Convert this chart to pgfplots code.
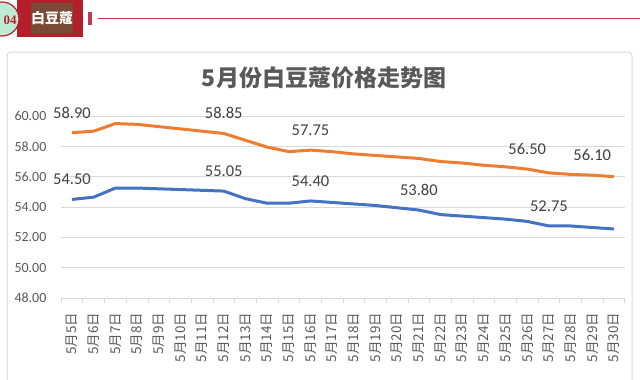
\documentclass[border=0pt]{standalone}
\usepackage{pgfplots}
\pgfplotsset{compat=1.18}
\usepackage{fontspec}
\setmainfont{Carlito}
\newfontfamily\cjk{Noto Sans CJK SC}
\newfontfamily\serifb{Liberation Serif}
\definecolor{orangeS}{HTML}{ED7D31}
\definecolor{blueS}{HTML}{4472C4}
\definecolor{gridc}{HTML}{D9D9D9}
\definecolor{txt}{HTML}{595959}
\definecolor{lab}{HTML}{404040}
\definecolor{hdred}{HTML}{B3202A}
\definecolor{hdbrown}{HTML}{7B4A36}
\definecolor{mint}{HTML}{BDEBD6}
\definecolor{linered}{HTML}{C23B55}
\begin{document}
\begin{tikzpicture}
\useasboundingbox (0,0) rectangle (640bp,-380bp);
% frame
\draw[gridc, line width=1bp, rounded corners=4bp] (7bp,-52bp) rectangle (632bp,-400bp);
% header
\fill[hdred] (17bp,0bp) rectangle (83bp,-37bp);
\fill[hdbrown] (31bp,-3bp) rectangle (73bp,-33bp);
\node[white, font=\cjk\bfseries\fontsize{14bp}{14bp}\selectfont] at (52bp,-18bp) {白豆蔻};
\draw[hdred, fill=mint, line width=1.2bp] (2bp,-19bp) circle (17bp);
\node[font=\serifb\bfseries\fontsize{13bp}{13bp}\selectfont, text=hdred] at (10bp,-20bp) {04};
\fill[linered] (88bp,-12bp) rectangle (92bp,-25bp);
\draw[linered, line width=1.5bp] (98bp,-18.5bp) -- (640bp,-18.5bp);
% title
\node[font=\cjk\bfseries\fontsize{23bp}{23bp}\selectfont, text=txt] at (324bp,-78bp) {5月份白豆蔻价格走势图};
\begin{axis}[
  at={(61.2bp,-298bp)}, anchor=south west,
  scale only axis, width=563.6bp, height=182bp,
  xmin=-0.5, xmax=25.5, ymin=48, ymax=60,
  ytick={48,50,...,60},
  ymajorgrids, grid style={gridc, line width=0.8bp},
  axis line style={draw=none},
  xtick={0,...,25},
  xticklabels={5月5日,5月6日,5月7日,5月8日,5月9日,5月10日,5月11日,5月12日,5月13日,5月14日,5月15日,5月16日,5月17日,5月18日,5月19日,5月20日,5月21日,5月22日,5月23日,5月24日,5月25日,5月26日,5月27日,5月28日,5月29日,5月30日},
  major x tick style={draw=none},
  minor xtick={-0.5,0.5,...,25.5},
  minor x tick style={gridc, line width=0.8bp},
  tick align=outside, minor tick length=5bp,
  xtick pos=bottom, ytick pos=left,
  ytick style={draw=none},
  xticklabel style={rotate=90, anchor=east, font=\cjk\fontsize{13.5bp}{13.5bp}\selectfont, text=txt},
  xticklabel shift=7bp,
  yticklabel style={font=\fontsize{14bp}{14bp}\selectfont, text=txt},
  yticklabel shift=7bp,
  /pgf/number format/.cd, fixed, fixed zerofill, precision=2, assume math mode=true,
  /pgfplots/.cd,
  clip=false,
]
\addplot[orangeS, line width=3bp, no marks, line join=round] coordinates {
(0,58.90) (1,59.00) (2,59.50) (3,59.45) (4,59.30) (5,59.15) (6,59.00) (7,58.85)
(8,58.40) (9,57.95) (10,57.65) (11,57.75) (12,57.65) (13,57.50) (14,57.40) (15,57.30)
(16,57.20) (17,57.00) (18,56.90) (19,56.75) (20,56.65) (21,56.50) (22,56.25) (23,56.15)
(24,56.10) (25,56.00)};
\addplot[blueS, line width=3bp, no marks, line join=round] coordinates {
(0,54.50) (1,54.65) (2,55.25) (3,55.25) (4,55.20) (5,55.15) (6,55.10) (7,55.05)
(8,54.55) (9,54.25) (10,54.25) (11,54.40) (12,54.30) (13,54.20) (14,54.10) (15,53.95)
(16,53.80) (17,53.50) (18,53.40) (19,53.30) (20,53.20) (21,53.05) (22,52.75) (23,52.75)
(24,52.65) (25,52.55)};
\addplot[draw=none, no marks, nodes near coords,
  nodes near coords style={font=\fontsize{16.5bp}{16.5bp}\selectfont, text=lab, anchor=south, yshift=11bp}]
  coordinates {(0,58.90) (7,58.85) (11,57.75) (21,56.50) (24,56.10)};
\addplot[draw=none, no marks, nodes near coords,
  nodes near coords style={font=\fontsize{16.5bp}{16.5bp}\selectfont, text=lab, anchor=south, yshift=11bp}]
  coordinates {(0,54.50) (7,55.05) (11,54.40) (16,53.80) (22,52.75)};
\end{axis}
\end{tikzpicture}
\end{document}
